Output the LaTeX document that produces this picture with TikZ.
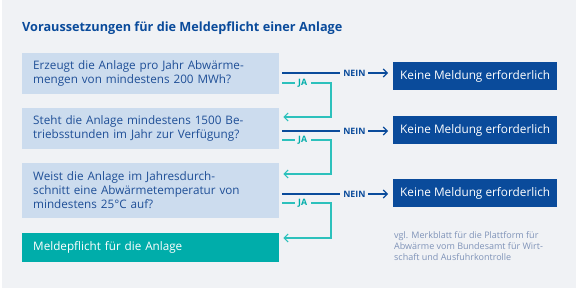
\documentclass[tikz,border=0pt]{standalone}
\usepackage{fontspec}
\setmainfont{Open Sans}
\usetikzlibrary{arrows.meta}
\definecolor{bg}{HTML}{F0F2F5}
\definecolor{qfill}{HTML}{CCDCEE}
\definecolor{qtext}{HTML}{1F4F97}
\definecolor{dblue}{HTML}{0A4B9B}
\definecolor{teal}{HTML}{00ADAA}
\definecolor{tline}{HTML}{2CC1BC}
\definecolor{note}{HTML}{7F93B8}
\begin{document}
\begin{tikzpicture}[x=1pt,y=-1pt,
  qbox/.style={fill=qfill, text=qtext, anchor=west, minimum width=257pt, text width=235pt, inner xsep=11pt, inner ysep=0pt, align=left, font=\fontsize{11.7}{13.5}\selectfont},
  kbox/.style={fill=dblue, text=white, anchor=west, minimum width=164pt, minimum height=28pt, inner sep=0pt, align=center, font=\fontsize{11.8}{13}\selectfont},
  nein/.style={draw=dblue, line width=1.1pt},
  ja/.style={draw=tline, line width=1.1pt},
  neinlbl/.style={fill=bg, text=dblue, inner xsep=3pt, inner ysep=1pt, font=\bfseries\fontsize{8.8}{10}\selectfont},
  jalbl/.style={fill=bg, text=teal, inner xsep=3.5pt, inner ysep=1pt, font=\bfseries\fontsize{8.8}{10}\selectfont},
  tip/.style={-{Straight Barb[length=4pt,width=8pt,line width=1.1pt]}}
]
\useasboundingbox (0,0) rectangle (576,291);
\fill[white] (0,0) rectangle (576,291);
\fill[bg] (1.5,0) rectangle (576,288.5);

\node[anchor=west, inner sep=0pt, text=dblue, font=\bfseries\fontsize{12.7}{14}\selectfont] (title) at (22,28) {Voraussetzungen für die Meldepflicht einer Anlage};

\node[qbox, minimum height=41pt] (q1) at (22,73.5) {Erzeugt die Anlage pro Jahr Abwärme-\\mengen von mindestens 200 MWh?};
\node[qbox, minimum height=41pt] (q2) at (22,128.5) {Steht die Anlage mindestens 1500 Be-\\triebsstunden im Jahr zur Verfügung?};
\node[qbox, minimum height=55pt, font=\fontsize{11.7}{14}\selectfont] (q3) at (22,190.5) {Weist die Anlage im Jahresdurch-\\schnitt eine Abwärmetemperatur von\\mindestens 25°C auf?};
\node[qbox, fill=teal, text=white, minimum height=29pt] (m) at (22,247.5) {Meldepflicht für die Anlage};

\node[kbox] (k1) at (393,76) {Keine Meldung erforderlich};
\node[kbox] (k2) at (393,130) {Keine Meldung erforderlich};
\node[kbox] (k3) at (393,193) {Keine Meldung erforderlich};

\node[anchor=north west, inner sep=0pt, text=note, align=left, font=\fontsize{9}{11}\selectfont] (src) at (394,231.5) {vgl. Merkblatt für die Plattform für\\Abwärme vom Bundesamt für Wirt-\\schaft und Ausfuhrkontrolle};

% NEIN connectors
\foreach \q/\k/\y in {q1/k1/73, q2/k2/131, q3/k3/194}{
  \draw[nein, tip, shorten <=3pt, shorten >=5pt] (\q.east |- 0,\y) -- node[neinlbl, pos=0.66] {NEIN} (\k.west |- 0,\y);
}
% JA connectors
\coordinate (c1) at (331,83);
\coordinate (c2) at (331,140);
\coordinate (c3) at (331,203);
\draw[ja, tip, shorten <=3pt, shorten >=4pt] (q1.east |- c1) -- node[jalbl, pos=0.45] {JA} (c1) |- (q2.east |- 0,117);
\draw[ja, tip, shorten <=3pt, shorten >=4pt] (q2.east |- c2) -- node[jalbl, pos=0.45] {JA} (c2) |- (q3.east |- 0,174);
\draw[ja, tip, shorten <=3pt, shorten >=4pt] (q3.east |- c3) -- node[jalbl, pos=0.45] {JA} (c3) |- (m.east |- 0,238);
\end{tikzpicture}
\end{document}
